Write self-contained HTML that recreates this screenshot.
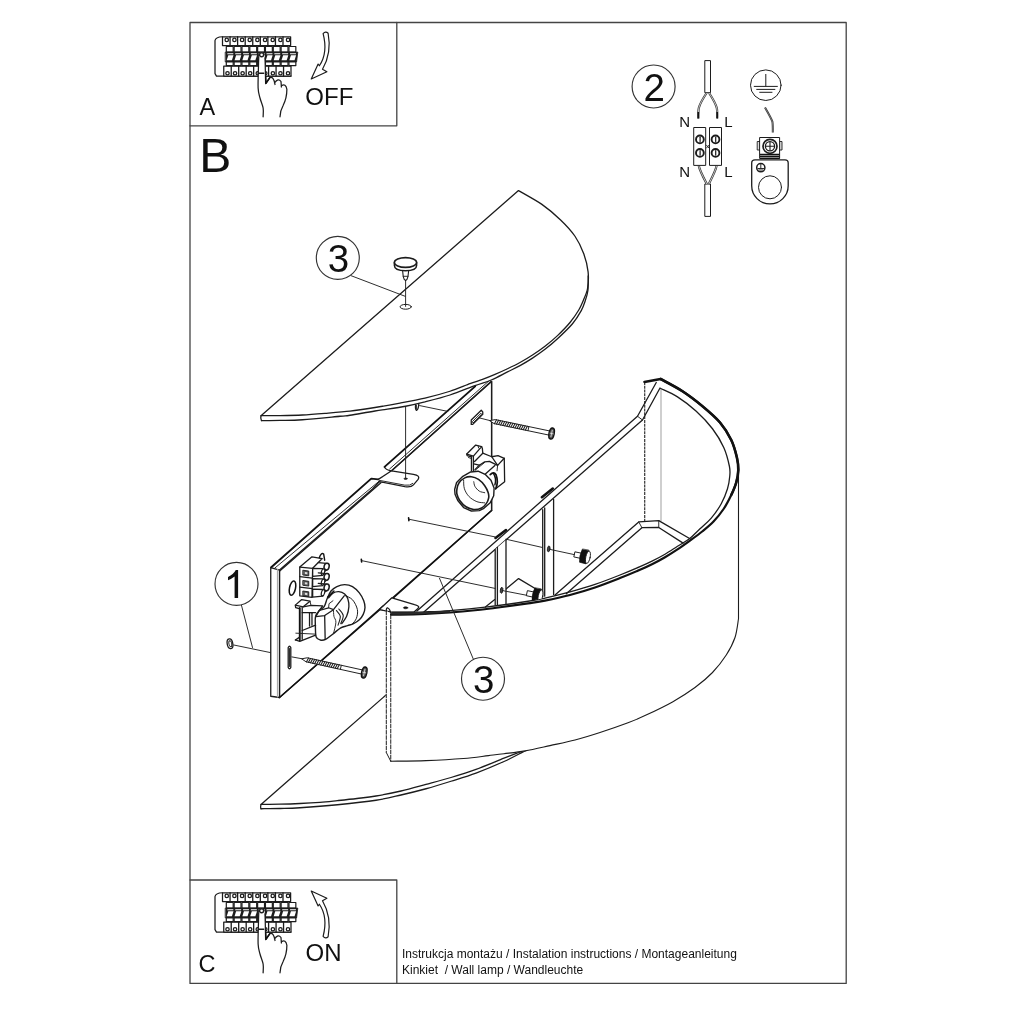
<!DOCTYPE html>
<html><head><meta charset="utf-8">
<style>
html,body{margin:0;padding:0;background:#fff;}
body{width:1024px;height:1024px;overflow:hidden;position:relative;font-family:"Liberation Sans",sans-serif;}
svg{position:absolute;left:0;top:0;will-change:transform;opacity:0.999;}
text{font-family:"Liberation Sans",sans-serif;fill:#111;}
path,ellipse,circle,rect,line{stroke-linecap:round;stroke-linejoin:round;}
.l{fill:none;stroke:#1c1c1c;stroke-width:1.3;}
.t{fill:none;stroke:#222;stroke-width:0.95;}
.g{fill:none;stroke:#777;stroke-width:0.7;}
.h{fill:none;stroke:#111;stroke-width:1.9;}
.w{fill:#fff;stroke:#1c1c1c;stroke-width:1.3;}
.wt{fill:#fff;stroke:#222;stroke-width:0.95;}
.k{fill:#111;stroke:#111;stroke-width:0.6;}
.fr{fill:none;stroke:#444;stroke-width:1.3;}
</style></head><body>
<svg width="1024" height="1024" viewBox="0 0 1024 1024">
<g id="frame">
<rect class="fr" x="190" y="22.5" width="656.2" height="960.9"/>
<path class="fr" d="M190 125.8H396.8V22.5"/>
<path class="fr" d="M190 880H396.8V983.4"/>
</g><!--e-->
<g id="labels">
<text x="199.6" y="114.6" font-size="23.5">A</text>
<text x="305.3" y="104.6" font-size="24">OFF</text>
<text x="199.2" y="172.4" font-size="48">B</text>
<text x="198.6" y="972.4" font-size="23.5">C</text>
<text x="305.6" y="961" font-size="24">ON</text>
<text x="402" y="958.3" font-size="12" xml:space="preserve">Instrukcja montażu / Instalation instructions / Montageanleitung</text>
<text x="402" y="974.3" font-size="12" xml:space="preserve">Kinkiet  / Wall lamp / Wandleuchte</text>
</g><!--e-->
<g id="bottomplate">
<path class="w" d="M386 695L261 804.4L261 808.75L261 808.75L280 808.5L300 807.75L337.5 804.75L376 800.25L401 795L426 788.75L451 781.25L476 773.1L504 761.5L525.6 750.6L532 748L530 700Z" style="stroke:none"/>
<path class="l" d="M386 695L261 804.4C264.17 804.37 273.5 804.35 280 804.2C286.5 804.05 293.33 803.82 300 803.5C306.67 803.18 313.75 802.78 320 802.3C326.25 801.82 331.33 801.23 337.5 800.6C343.67 799.97 350.58 799.27 357 798.5C363.42 797.73 368.67 797.25 376 796C383.33 794.75 392.67 792.93 401 791C409.33 789.07 417.67 786.65 426 784.4C434.33 782.15 442.67 780 451 777.5C459.33 775 467.17 772.63 476 769.4C484.83 766.17 496.67 761.02 504 758.1C511.33 755.18 515.67 753.58 520 751.9C524.33 750.22 528.33 748.65 530 748"/>
<path class="l" d="M261 808.75C264.17 808.71 273.5 808.67 280 808.5C286.5 808.33 290.42 808.38 300 807.75C309.58 807.12 324.83 806 337.5 804.75C350.17 803.5 365.42 801.88 376 800.25C386.58 798.62 392.67 796.92 401 795C409.33 793.08 417.67 791.04 426 788.75C434.33 786.46 442.67 783.86 451 781.25C459.33 778.64 467.17 776.39 476 773.1C484.83 769.81 495.73 765.25 504 761.5C512.27 757.75 520.93 752.85 525.6 750.6C530.27 748.35 530.93 748.43 532 748"/>
<path class="l" d="M261 804.4Q260.2 807 261 808.75"/>
</g><!--e-->
<g id="backplate">
<path class="w" d="M279.5 570L372.5 489L378.5 482.5L391.6 470.8L491.6 381.4L491.6 510.5L392.5 598.75L279.5 697.5Z"/>
<path class="w" d="M279.5 570L270.75 567.5L270.75 696.25L279.5 697.5Z"/>
<path class="g" d="M277.5 569.6V697" style="stroke:#aaa;stroke-width:1.2"/>
</g><!--e-->
<g id="bpdetail">
<path class="h" d="M279.5 697.5L491.6 510.5" style="stroke-width:1.5"/>
<path class="l" d="M491.6 381.4V510.5"/>
<path class="h" d="M384.53 466.88L475.16 386.41"/>
<path class="l" d="M391.56 470.78L490.78 381.72"/>
<path class="t" d="M389.69 468.91L489.22 380.62"/>
<path class="l" d="M384.53 466.88Q385.31 470 391.56 470.78"/>
<path class="h" d="M271.25 567.19L371.25 478.59L378.28 479.38"/>
<path class="t" d="M274.38 568.44L379.06 481.25"/>
<path class="l" d="M280 570.78L380.94 482.81"/>
<path class="w" d="M378.28 479.38L391.56 470.78L413.44 474.38Q420.47 475.47 418.12 479.38L413.44 484.84Q411.09 487.5 404.84 486.56L379.06 481.56"/>
<path class="t" d="M379.06 480.31L404.84 485.16Q410.31 485.94 412.81 483.44"/>
<ellipse class="k" cx="405.6" cy="478.7" rx="1.6" ry="0.8"/>
<path class="t" d="M405.6 406.5V478.5"/>
<path class="l" d="M415.6 404.6Q415 409.5 416.6 410.4Q418.4 409.5 418.8 404"/>
<path class="t" d="M416.4 405.2V408.8"/>
<path class="t" d="M419.7 405.6L447.8 411.4"/>
<path class="l" d="M471.25 420L481.25 410.25L482.75 411.88L482.75 414.38L472.75 424.38L471.25 424.38Z"/>
<path class="t" d="M472.75 421.25L481 413.25L481.62 414.5L473.25 422.75Z"/>
<path class="l" d="M288.2 647.5Q289.5 645 290.8 647.5V667.5Q289.5 670 288.2 667.5Z"/>
<path class="t" d="M289.5 648.5V666.5"/>
<ellipse class="h" cx="292.5" cy="588.1" rx="3" ry="7.3" transform="rotate(12 292.5 588.1)" style="stroke-width:1.5"/>
<path class="w" d="M391.88 597.81L414.53 604.53Q420.78 605.94 417.66 608.75L413.75 612.19L390.31 611.88L379.38 609.53Z"/>
<ellipse class="k" cx="405.6" cy="607.8" rx="2.2" ry="1"/>
</g><!--e-->
<g id="terminal">
<path class="w" d="M327.11 598.78C328.25 596.18 329.39 593 331.02 590.97C332.64 588.93 334.6 587.63 336.88 586.57C339.15 585.52 342.08 584.62 344.69 584.62C347.29 584.62 350.06 585.19 352.5 586.57C354.94 587.96 357.46 590.56 359.34 592.92C361.21 595.28 362.79 598.29 363.73 600.73C364.67 603.18 365.08 605.29 365 607.57C364.92 609.85 364.19 612.37 363.24 614.41C362.3 616.44 360.96 618.23 359.34 619.78C357.71 621.32 355.43 622.71 353.48 623.68C351.52 624.66 349.73 624.94 347.62 625.64C345.5 626.34 343.22 626.5 340.78 627.88C338.34 629.27 335.49 632.03 332.97 633.94C330.45 635.84 327.76 638.3 325.64 639.31C323.53 640.32 321.85 640.37 320.27 639.99C318.69 639.62 316.99 639.37 316.17 637.06C315.36 634.75 315.49 629.58 315.39 626.12C315.29 622.67 314.93 618.96 315.59 616.36C316.24 613.76 317.86 612.13 319.3 610.5C320.73 608.87 322.88 608.55 324.18 606.59C325.48 604.64 325.97 601.39 327.11 598.78Z" style="stroke-width:1.4"/>
<path class="l" d="M328.57 597.8C329.31 597.02 331.26 594.14 332.97 593.12C334.68 592.09 336.88 591.52 338.83 591.65C340.78 591.78 343.19 592.71 344.69 593.9C346.18 595.09 347.11 596.67 347.81 598.78C348.51 600.9 349.08 603.66 348.89 606.59C348.69 609.52 347.83 613.51 346.64 616.36C345.45 619.21 342.57 622.46 341.76 623.68"/>
<path class="l" d="M344.69 595.36C345.99 596.1 350.38 597.4 352.5 599.76C354.62 602.12 356.73 606.43 357.38 609.52C358.03 612.62 357.22 615.95 356.41 618.31C355.59 620.67 353.15 622.79 352.5 623.68" style="stroke-width:1.0"/>
<path class="h" d="M327.6 597.32L333.95 590.97" style="stroke-width:1.5"/>
<path class="l" d="M319.3 610.5L328.57 607.77L333.46 609.72L324.67 615.58L315.88 616.55Z"/>
<path class="l" d="M324.67 615.58L325.16 639.02"/>
<path class="l" d="M333.46 609.72L344.2 595.85"/>
<path class="t" d="M328.57 607.77L329.06 603.66L332.97 600.73"/>
<path class="t" d="M333.46 609.72C333.54 610.83 333.54 614.28 333.95 616.36C334.35 618.44 335.98 619.32 335.9 622.22C335.82 625.12 333.86 631.82 333.46 633.74"/>
<path class="l" d="M336.39 610.5C337.04 611.48 340.02 613.92 340.29 616.36C340.57 618.8 338.42 623.68 338.05 625.15" style="stroke-width:1.1"/>
<path class="l" d="M338.83 609.04C339.56 610.09 342.9 612.94 343.22 615.38C343.55 617.82 341.19 622.3 340.78 623.68" style="stroke-width:1.1"/>
<path class="w" d="M295.37 605.13L301.72 599.56L310.02 601.22L303.18 606.79Z"/>
<path class="l" d="M295.37 605.13L295.66 607.57L299.28 608.74"/>
<path class="l" d="M303.18 606.79L311 605.42L322.71 605.81L319.3 610.5"/>
<path class="t" d="M310.02 601.22L311 605.42"/>
<path class="h" d="M299.77 608.06L299.77 640.29Z"/>
<path class="l" d="M302.21 607.57L302.21 639.31"/>
<path class="l" d="M302.21 612.65L315.59 612.65"/>
<path class="l" d="M309.53 613.23L309.53 626.12"/>
<path class="l" d="M311.97 613.23L311.97 625.15"/>
<path class="l" d="M302.21 630.52L315.59 625.15"/>
<path class="t" d="M295.86 633.16L315.59 634.13"/>
<path class="l" d="M295.37 639.99L299.77 641.36L315.59 635.21"/>
<path class="l" d="M295.37 639.99L299.28 637.36"/>
<path class="w" d="M299.77 567.04L311.97 556.79L322.23 558.55L328.57 562.65L329.06 590.97L322.71 596.83L311.97 597.32L299.77 595.85Z" style="stroke:none"/>
<path class="l" d="M299.77 567.04L311.97 556.79L322.23 558.55L312.66 568.31Z"/>
<path class="l" d="M299.77 567.04L299.77 595.85L311.97 597.32L312.66 568.31"/>
<path d="M303.18 570.27L308.75 571.05L308.75 575.83L303.18 575.05Z" fill="#555" stroke="#1c1c1c" stroke-width="0.9"/>
<path d="M304.84 571.93L307.38 572.32L307.38 574.37L304.84 573.98Z" fill="#ddd"/>
<path class="w" d="M312.66 568.31L322.71 568.7L322.71 575.34L312.66 576.32Z"/>
<path class="l" d="M318.32 562.65L326.33 563.43"/>
<path class="l" d="M322.71 572.41L327.11 569.68"/>
<ellipse class="w" cx="326.62" cy="566.55" rx="2.5" ry="3.4" transform="rotate(15 326.62 566.55)" style="stroke-width:1.5"/>
<ellipse class="w" cx="323.01" cy="571.93" rx="1.6" ry="3.2" transform="rotate(15 323.01 571.93)" style="stroke-width:1.2"/>
<path class="l" d="M299.77 576.52L312.27 578.08"/>
<path d="M303.18 580.52L308.75 581.3L308.75 586.09L303.18 585.3Z" fill="#555" stroke="#1c1c1c" stroke-width="0.9"/>
<path d="M304.84 582.18L307.38 582.57L307.38 584.62L304.84 584.23Z" fill="#ddd"/>
<path class="w" d="M312.66 578.57L322.71 578.96L322.71 585.6L312.66 586.57Z"/>
<path class="l" d="M318.32 572.9L326.33 573.68"/>
<path class="l" d="M322.71 582.67L327.11 579.93"/>
<ellipse class="w" cx="326.62" cy="576.81" rx="2.5" ry="3.4" transform="rotate(15 326.62 576.81)" style="stroke-width:1.5"/>
<ellipse class="w" cx="323.01" cy="582.18" rx="1.6" ry="3.2" transform="rotate(15 323.01 582.18)" style="stroke-width:1.2"/>
<path class="l" d="M299.77 587.06L312.27 588.62"/>
<path d="M303.18 591.07L308.75 591.85L308.75 596.63L303.18 595.85Z" fill="#555" stroke="#1c1c1c" stroke-width="0.9"/>
<path d="M304.84 592.73L307.38 593.12L307.38 595.17L304.84 594.78Z" fill="#ddd"/>
<path class="w" d="M312.66 589.11L322.71 589.5L322.71 596.14L312.66 597.12Z"/>
<path class="l" d="M318.32 583.45L326.33 584.23"/>
<path class="l" d="M322.71 593.21L327.11 590.48"/>
<ellipse class="w" cx="326.62" cy="587.36" rx="2.5" ry="3.4" transform="rotate(15 326.62 587.36)" style="stroke-width:1.5"/>
<ellipse class="w" cx="323.01" cy="592.73" rx="1.6" ry="3.2" transform="rotate(15 323.01 592.73)" style="stroke-width:1.2"/>
<path class="h" d="M319.3 557.77Q321.25 551.91 323.69 554.05L324.67 560.21" style="stroke-width:1.4"/>
</g><!--e-->
<g id="holder">
<path class="w" d="M466.75 454.02L475.73 445.03L481.59 446.59L482.38 448.55L482.77 453.23L491.75 456.75L498 455.58L504.25 458.31L504.64 481.75L495.66 488.78L494.09 488L493.7 495.81L490.19 502.84L483.94 508.31L479.25 510.66L471.44 511.05L463.62 507.53L457.77 500.5L455.03 494.25L454.64 489.56L456.59 482.53L462.84 476.28L470.66 471.98L471.44 470.81L471.44 456.75L467.14 455.58Z" style="stroke:none"/>
<path class="l" d="M466.75 454.02L475.73 445.03L481.59 446.59L473.39 456.12Z"/>
<path class="l" d="M466.75 454.02L467.14 455.58L471.44 456.91"/>
<path class="t" d="M468.47 457.53L471.28 458.47"/>
<path class="l" d="M471.44 456.75L471.44 470.97"/>
<path class="l" d="M473.39 456.44L473.39 470.42"/>
<path class="l" d="M481.59 446.59L482.38 448.55L482.77 453.23L474.56 461.44"/>
<path class="t" d="M478.08 445.81L478.62 448"/>
<path class="l" d="M473.78 463.78L479.25 465.19L474.95 469.64"/>
<path class="l" d="M482.77 453.23L491.75 456.75L498 455.58L504.25 458.31L504.64 481.75L495.66 488.78"/>
<path class="l" d="M491.75 456.75L497.61 465.34L504.25 458.31"/>
<path class="l" d="M479.25 465.19L484.72 461.83L489.41 461.44L497.61 465.34"/>
<path class="t" d="M474.95 470.42L484.72 462.38"/>
<path class="l" d="M485.11 474.33L494.88 465.5"/>
<path class="t" d="M497.61 465.34L497.06 470.81"/>
<path class="h" d="M490.19 474.72Q493.7 471.2 496.05 474.72Q498.78 481.75 495.66 488.78" style="stroke-width:1.7"/>
<path class="h" d="M493.31 473.16Q496.83 478.62 494.88 484.88" style="stroke-width:1.5"/>
<path class="w" d="M454.64 489.56L456.59 482.53L462.84 476.28L470.66 471.98L478.08 471.2L485.11 474.33L490.97 480.19L494.09 488L493.7 495.81L490.19 502.84L483.94 508.31L479.25 510.66L471.44 511.05L463.62 507.53L457.77 500.5L455.03 494.25Z" style="stroke-width:1.4"/>
<path class="l" d="M456.98 488.78C457.31 486.89 457.64 484.74 458.94 482.92C460.24 481.1 462.71 478.89 464.8 477.84C466.88 476.8 469.16 476.41 471.44 476.67C473.72 476.93 476.26 477.91 478.47 479.41C480.68 480.9 483.09 483.44 484.72 485.66C486.35 487.87 487.58 490.6 488.23 492.69C488.89 494.77 488.95 496.33 488.62 498.16C488.3 499.98 487.45 502 486.28 503.62C485.11 505.25 483.68 506.95 481.59 507.92C479.51 508.9 476.39 509.68 473.78 509.48C471.18 509.29 468.31 508.25 465.97 506.75C463.62 505.25 461.22 502.58 459.72 500.5C458.22 498.42 457.44 496.2 456.98 494.25C456.53 492.3 456.66 490.67 456.98 488.78Z" style="stroke-width:1.6"/>
<path class="t" d="M463.62 480.19C463.76 481.62 463.49 486.05 464.41 488.78C465.32 491.52 467.01 494.45 469.09 496.59C471.18 498.74 474.3 500.63 476.91 501.67C479.51 502.71 483.42 502.65 484.72 502.84"/>
<path class="t" d="M473.78 481.75C473.98 482.53 474.04 484.88 474.95 486.44C475.86 488 477.62 490.08 479.25 491.12C480.88 492.17 483.81 492.43 484.72 492.69"/>
</g><!--e-->
<g id="topplate">
<path class="w" d="M261.5 420.6L261 415.7L518.5 190.6L541.9 204.4L560.6 220L575 236.25L583.75 253.75L588.1 271.9L588.2 276L587.9 290.5L585 301.5L581.25 310.6L572.5 323.75L557.5 338.75L545 349.3L532.5 358.1L520 365.6L507.5 371.9L491.25 380L475 385.6L450 395L425 401.9L405.6 406.25L375 411L350 415.25L340 416.25L302.5 419.75L280 420.4L261.5 420.6Z" style="stroke:none"/>
<path class="l" d="M261 415.7L518.5 190.6C521.62 192.44 536.29 200.48 541.9 204.4C547.51 208.32 556.19 215.75 560.6 220C565.01 224.25 571.91 231.75 575 236.25C578.09 240.75 582 249 583.75 253.75C585.5 258.5 587.6 267.23 588.1 271.9C588.6 276.57 588.11 285 587.5 288.75C586.89 292.5 584.67 297.17 583.5 300C582.33 302.83 580.55 307 578.75 310C576.95 313 572.83 319.09 570 322.5C567.17 325.91 560.83 332.43 557.5 335.6C554.17 338.77 548.33 343.66 545 346.25C541.67 348.84 535.83 352.83 532.5 355C529.17 357.17 523.33 360.67 520 362.5C516.67 364.33 510.83 367.16 507.5 368.75C504.17 370.34 498.33 372.98 495 374.4C491.67 375.82 485.83 378.17 482.5 379.4C479.17 380.63 474.33 382.02 470 383.6C465.67 385.18 456 389.32 450 391.25C444 393.18 431.67 396.52 425 398.1C418.33 399.68 406.67 401.85 400 403.1C393.33 404.35 381.67 406.42 375 407.5C368.33 408.58 356.67 410.41 350 411.2C343.33 411.99 331.33 412.89 325 413.4C318.67 413.91 308.5 414.71 302.5 415C296.5 415.29 285.53 415.51 280 415.6C274.47 415.69 263.53 415.69 261 415.7"/>
<path class="l" d="M588.2 276C588.15 278.42 588.43 286.25 587.9 290.5C587.37 294.75 586.11 298.15 585 301.5C583.89 304.85 583.33 306.89 581.25 310.6C579.17 314.31 576.46 319.06 572.5 323.75C568.54 328.44 562.08 334.49 557.5 338.75C552.92 343.01 549.17 346.07 545 349.3C540.83 352.53 536.67 355.38 532.5 358.1C528.33 360.82 524.17 363.3 520 365.6C515.83 367.9 512.29 369.5 507.5 371.9C502.71 374.3 496.67 377.72 491.25 380C485.83 382.28 481.88 383.1 475 385.6C468.12 388.1 458.33 392.28 450 395C441.67 397.72 432.4 400.02 425 401.9C417.6 403.77 413.93 404.73 405.6 406.25C397.27 407.77 384.27 409.5 375 411C365.73 412.5 355.83 414.38 350 415.25C344.17 416.12 347.92 415.5 340 416.25C332.08 417 312.5 419.06 302.5 419.75C292.5 420.44 286.83 420.26 280 420.4C273.17 420.54 264.58 420.57 261.5 420.6"/>
<path class="l" d="M261 415.7Q260.2 418.5 261.5 420.6"/>
</g><!--e-->
<g id="shade">
<path class="w" d="M644.4 381.9L660.6 379C664.25 381.04 675.52 386.71 682.5 391.25C689.48 395.79 696.25 401.04 702.5 406.25C708.75 411.46 715.21 416.88 720 422.5C724.79 428.12 728.43 434.17 731.25 440C734.07 445.83 735.73 452.5 736.9 457.5C738.07 462.5 738.41 465.83 738.3 470C738.19 474.17 737.42 478.33 736.25 482.5C735.08 486.67 733.33 490.62 731.25 495C729.17 499.38 726.67 504.38 723.75 508.75C720.83 513.12 717.29 517.5 713.75 521.25C710.21 525 706.46 528.02 702.5 531.25C698.54 534.48 694.17 537.58 690 540.6C685.83 543.62 681.67 546.63 677.5 549.4C673.33 552.17 669.17 554.77 665 557.2C660.83 559.63 656.67 561.9 652.5 564C648.33 566.1 645.42 567.45 640 569.8C634.58 572.15 627.5 575.15 620 578.1C612.5 581.05 603.33 584.68 595 587.5C586.67 590.32 578.33 592.82 570 595C561.67 597.18 552 599.22 545 600.6C538 601.98 535.5 602.19 528 603.3C520.5 604.41 508.83 606.09 500 607.25C491.17 608.41 483.33 609.38 475 610.25C466.67 611.12 458.33 611.88 450 612.5C441.67 613.12 433.33 613.62 425 614C416.67 614.38 405.67 614.65 400 614.75C394.33 614.85 392.5 614.62 391 614.6L385.8 610V752.5L390.75 761.25C396.62 761.14 413.88 761.06 426 760.6C438.12 760.14 453.08 759.33 463.5 758.5C473.92 757.67 481.75 756.39 488.5 755.6C495.25 754.81 497.92 754.53 504 753.75C510.08 752.97 517.33 752.26 525 750.9C532.67 749.54 541.67 747.42 550 745.6C558.33 743.78 566.67 742.18 575 740C583.33 737.82 591.17 735.38 600 732.5C608.83 729.62 620.5 725.57 628 722.75C635.5 719.93 637.58 719.08 645 715.6C652.42 712.12 664.17 706.58 672.5 701.9C680.83 697.22 688.33 692.4 695 687.5C701.67 682.6 707.29 677.92 712.5 672.5C717.71 667.08 722.5 660.83 726.25 655C730 649.17 732.96 643.54 735 637.5C737.04 631.46 737.92 621.88 738.5 618.75L738.5 470" style="stroke:none"/>
<path class="l" d="M390.75 761.25C396.62 761.14 413.88 761.06 426 760.6C438.12 760.14 453.08 759.33 463.5 758.5C473.92 757.67 481.75 756.39 488.5 755.6C495.25 754.81 497.92 754.53 504 753.75C510.08 752.97 517.33 752.26 525 750.9C532.67 749.54 541.67 747.42 550 745.6C558.33 743.78 566.67 742.18 575 740C583.33 737.82 591.17 735.38 600 732.5C608.83 729.62 620.5 725.57 628 722.75C635.5 719.93 637.58 719.08 645 715.6C652.42 712.12 664.17 706.58 672.5 701.9C680.83 697.22 688.33 692.4 695 687.5C701.67 682.6 707.29 677.92 712.5 672.5C717.71 667.08 722.5 660.83 726.25 655C730 649.17 732.96 643.54 735 637.5C737.04 631.46 737.92 621.88 738.5 618.75L738.5 470" style="stroke-width:1.1"/>
<path class="h" d="M644.7 381.9V521" style="stroke-dasharray:3 0.8;stroke-linecap:butt;stroke-width:1.2;stroke:#333"/>
<path class="g" d="M661 388.5V520.6"/>
<path class="l" d="M416.9 611.1L637.5 416.25L656.25 382.5"/>
<path class="l" d="M423.9 611.9L642.5 420L660 388"/>
<path class="t" d="M637.5 416.25L642.5 420"/>
<path class="l" d="M555 595L638.75 521.9L658.75 520.6L690 538.75"/>
<path class="l" d="M566.25 593.75L641.9 527.7L658.75 527.5L683.1 543.1"/>
<path class="t" d="M638.75 521.9L641.9 527.7M658.75 520.6V527.5"/>
<path class="l" d="M485.4 607L494.75 599.6"/>
<path class="l" d="M500 594L518.6 578.6L541 592"/>
<path class="w" d="M495 549.4L505.9 540L505.9 604.3L495 605.3Z" style="stroke:none"/>
<path class="w" d="M542.7 509.7L553.6 499.5L553.6 594.8L542.7 596.8Z" style="stroke:none"/>
<path class="l" d="M542.7 509.7V596.5M544.7 508V596.2M553.6 499.5V594.6"/>
<path class="l" d="M495.2 549.4V605M497.4 547.3V604.8M506 540V604"/>
<path class="h" d="M541.9 497.2L552.8 488.6" style="stroke-width:2.6"/>
<path class="h" d="M495.5 538L506 530" style="stroke-width:2.6"/>
<path class="l" d="M660.6 388.5C663.42 389.9 671.56 393.11 677.5 396.9C683.44 400.69 690.42 405.94 696.25 411.25C702.08 416.56 707.92 422.71 712.5 428.75C717.08 434.79 720.93 441.25 723.75 447.5C726.57 453.75 728.4 461.46 729.4 466.25C730.4 471.04 730.07 472.5 729.75 476.25C729.43 480 728.92 484.17 727.5 488.75C726.08 493.33 723.96 498.86 721.25 503.75C718.54 508.64 714.79 513.93 711.25 518.1C707.71 522.27 703.64 525.31 700 528.75C696.36 532.19 693.15 535.83 689.4 538.75C685.65 541.67 681.57 543.67 677.5 546.25C673.43 548.83 669.17 551.78 665 554.2C660.83 556.62 656.67 558.73 652.5 560.8C648.33 562.87 645.42 564.23 640 566.6C634.58 568.97 627.5 572.03 620 575C612.5 577.97 603.33 581.58 595 584.4C586.67 587.22 578.33 589.62 570 591.9C561.67 594.18 552 596.54 545 598.1C538 599.66 537.58 599.78 528 601.25C518.42 602.72 500.5 605.34 487.5 606.9C474.5 608.46 460.42 609.77 450 610.6C439.58 611.43 433.33 611.58 425 611.9C416.67 612.22 405.5 612.42 400 612.5C394.5 612.58 393.33 612.42 392 612.4"/>
<path class="h" d="M660.6 379C664.25 381.04 675.52 386.71 682.5 391.25C689.48 395.79 696.25 401.04 702.5 406.25C708.75 411.46 715.21 416.88 720 422.5C724.79 428.12 728.43 434.17 731.25 440C734.07 445.83 735.73 452.5 736.9 457.5C738.07 462.5 738.41 465.83 738.3 470C738.19 474.17 737.42 478.33 736.25 482.5C735.08 486.67 733.33 490.62 731.25 495C729.17 499.38 726.67 504.38 723.75 508.75C720.83 513.12 717.29 517.5 713.75 521.25C710.21 525 706.46 528.02 702.5 531.25C698.54 534.48 694.17 537.58 690 540.6C685.83 543.62 681.67 546.63 677.5 549.4C673.33 552.17 669.17 554.77 665 557.2C660.83 559.63 656.67 561.9 652.5 564C648.33 566.1 645.42 567.45 640 569.8C634.58 572.15 627.5 575.15 620 578.1C612.5 581.05 603.33 584.68 595 587.5C586.67 590.32 578.33 592.82 570 595C561.67 597.18 552 599.22 545 600.6C538 601.98 535.5 602.19 528 603.3C520.5 604.41 508.83 606.09 500 607.25C491.17 608.41 483.33 609.38 475 610.25C466.67 611.12 458.33 611.88 450 612.5C441.67 613.12 433.33 613.62 425 614C416.67 614.38 405.67 614.65 400 614.75C394.33 614.85 392.5 614.62 391 614.6" style="stroke-width:2.2"/>
<path class="h" d="M660.6 379C664.25 381.04 675.52 386.71 682.5 391.25C689.48 395.79 696.25 401.04 702.5 406.25C708.75 411.46 715.21 416.88 720 422.5C724.79 428.12 728.43 434.17 731.25 440C734.07 445.83 735.73 452.5 736.9 457.5C738.07 462.5 738.41 465.83 738.3 470C738.19 474.17 737.42 478.33 736.25 482.5C735.08 486.67 733.33 490.62 731.25 495" style="stroke-width:2.6"/>
<path class="h" d="M644.4 381.9L660.6 379" style="stroke-width:2.5"/>
<path class="k" d="M450 610.6L425 611.9L400 612.5L392 612.4L391 614.6L400 614.75L425 614L450 612.5Z" style="fill:#2a2a2a;stroke:none"/>
<path class="l" d="M386.3 610.5V752.5M390.75 614.5V761.25" style="stroke-width:1.0;stroke-dasharray:4.5 0.7;stroke-linecap:butt"/>
<path class="l" d="M386.3 752.5L390.75 761.25" style="stroke-width:1.0"/>
<path class="l" d="M386.3 611Q386.2 607.6 387.8 608Q389.8 608.8 391.2 614"/>
</g><!--e-->
<g id="knobs">
<ellipse class="k" cx="548.7" cy="548.9" rx="1.3" ry="3" transform="rotate(8 548.7 548.9)" style="fill:#444;stroke-width:0.8"/>
<ellipse class="k" cx="501.6" cy="590.3" rx="1.3" ry="3" transform="rotate(8 501.6 590.3)" style="fill:#444;stroke-width:0.8"/>
<path class="t" d="M550.5 549.5L574.7 554.7"/>
<path class="t" d="M503.6 590.8L527.8 595.5"/>
<g transform="translate(585.8 556.8) rotate(12)"><rect class="w" x="-11.3" y="-2.6" width="6.5" height="5.2" style="stroke-width:0.9"/><path class="k" d="M-5 -6.6Q-6.8 0 -5 6.6L1.6 6.9Q4.6 0 1.6 -6.9Z"/><ellipse class="w" cx="2.2" cy="0" rx="2.2" ry="6.3" style="stroke-width:0.9"/></g>
<clipPath id="cpk"><path d="M500 500L652.5 560.8 640 566.6 620 575 595 584.4 570 591.9 545 598.1 528 601.25 487.5 606.9 450 610.6 425 611.9L480 608Z"/></clipPath>
<g clip-path="url(#cpk)">
<g transform="translate(538.3 595.6) rotate(12)"><rect class="w" x="-11.3" y="-2.6" width="6.5" height="5.2" style="stroke-width:0.9"/><path class="k" d="M-5 -6.6Q-6.8 0 -5 6.6L1.6 6.9Q4.6 0 1.6 -6.9Z"/><ellipse class="w" cx="2.2" cy="0" rx="2.2" ry="6.3" style="stroke-width:0.9"/></g>
</g>
</g><!--e-->
<g id="screws">
<path class="t" d="M479.4 417.9L490 420.6"/>
<g transform="translate(490 420.6) rotate(11.83)"><path class="w" d="M0 0L5 -2.1L60.94 -2.1L60.94 2.1L5 2.1Z" style="stroke-width:0.9"/><path class="l" d="M5 2.1L6.2 -2.1M7.1 2.1L8.3 -2.1M9.2 2.1L10.4 -2.1M11.3 2.1L12.5 -2.1M13.4 2.1L14.6 -2.1M15.5 2.1L16.7 -2.1M17.6 2.1L18.8 -2.1M19.7 2.1L20.9 -2.1M21.8 2.1L23 -2.1M23.9 2.1L25.1 -2.1M26 2.1L27.2 -2.1M28.1 2.1L29.3 -2.1M30.2 2.1L31.4 -2.1M32.3 2.1L33.5 -2.1M34.4 2.1L35.6 -2.1M36.5 2.1L37.7 -2.1" style="stroke-width:1.05"/><path class="t" d="M39.26 -2.1V2.1"/><ellipse class="w" cx="62.94" cy="0" rx="2.6" ry="5.6" style="fill:#555;stroke:#111;stroke-width:1.4"/><path d="M62.94 -3.2V3.2M61.34 0H64.54" stroke="#eee" stroke-width="0.7" fill="none"/></g>
<path class="t" d="M291.9 656.9L302 658.75"/>
<g transform="translate(302 658.75) rotate(12.46)"><path class="w" d="M0 0L5 -2.1L61.75 -2.1L61.75 2.1L5 2.1Z" style="stroke-width:0.9"/><path class="l" d="M5 2.1L6.2 -2.1M7.1 2.1L8.3 -2.1M9.2 2.1L10.4 -2.1M11.3 2.1L12.5 -2.1M13.4 2.1L14.6 -2.1M15.5 2.1L16.7 -2.1M17.6 2.1L18.8 -2.1M19.7 2.1L20.9 -2.1M21.8 2.1L23 -2.1M23.9 2.1L25.1 -2.1M26 2.1L27.2 -2.1M28.1 2.1L29.3 -2.1M30.2 2.1L31.4 -2.1M32.3 2.1L33.5 -2.1M34.4 2.1L35.6 -2.1M36.5 2.1L37.7 -2.1" style="stroke-width:1.05"/><path class="t" d="M39.75 -2.1V2.1"/><ellipse class="w" cx="63.75" cy="0" rx="2.6" ry="5.6" style="fill:#555;stroke:#111;stroke-width:1.4"/><path d="M63.75 -3.2V3.2M62.15 0H65.35" stroke="#eee" stroke-width="0.7" fill="none"/></g>
</g><!--e-->
<g id="leaders">
<path class="t" d="M408.75 519.2L495 536.9M506 539.2L542.5 547.5"/>
<path class="h" d="M408.6 517.8L408.9 520.6" style="stroke-width:1.6"/>
<path class="t" d="M361.5 560.6L495 588.4"/>
<path class="h" d="M361.3 559.2L361.6 562" style="stroke-width:1.6"/>
<path class="t" d="M439.5 578.3L473.5 659.5"/>
<path class="t" d="M351.25 275.75L405 296.25"/>
<path class="t" d="M241.25 604.5L252.5 647.5"/>
<path class="t" d="M233.75 645L270.5 652.6"/>
</g><!--e-->
<g id="callouts">
<circle class="w" cx="337.8" cy="257.9" r="21.5" style="stroke-width:1.15;stroke:#333"/>
<text x="338.5" y="272.2" font-size="38.5" text-anchor="middle">3</text>
<circle class="w" cx="236.5" cy="583.9" r="21.5" style="stroke-width:1.15;stroke:#333"/>
<path transform="translate(0 0)" d="M238.1 570.1V597.9H234.6V576.6Q231.5 579 228 580.3V577Q233.4 574.6 235.8 570.1Z" fill="#111"/>
<circle class="w" cx="483" cy="678.75" r="21.5" style="stroke-width:1.15;stroke:#333"/>
<text x="483.7" y="693.05" font-size="38.5" text-anchor="middle">3</text>
<circle class="w" cx="653.6" cy="86.5" r="21.5" style="stroke-width:1.15;stroke:#333"/>
<text x="654.3" y="100.8" font-size="38.5" text-anchor="middle">2</text>
<ellipse class="l" cx="230" cy="643.75" rx="2.8" ry="4.9" transform="rotate(-10 230 643.75)"/>
<ellipse class="t" cx="230.3" cy="643.75" rx="1.4" ry="3" transform="rotate(-10 230.3 643.75)"/>
<path class="t" d="M405.6 280V306.4"/>
<ellipse class="l" cx="405.7" cy="306.8" rx="5.6" ry="2.4" style="stroke-width:1.0"/>
<path class="w" d="M402.5 269.5L403.2 276.3L404.2 279.3L405.6 280.5L407 279.3L408 276.3L408.8 269.5" style="stroke-width:1.1"/>
<path class="t" d="M403.2 276.3H408"/>
<path class="w" d="M394.4 262.5V265.6Q394.4 270.8 405.5 270.8Q416.6 270.8 416.6 265.6V262.5" style="stroke-width:1.5"/>
<ellipse class="w" cx="405.5" cy="262.5" rx="11.1" ry="4.9" style="stroke-width:1.6"/>
</g><!--e-->
<g id="boxA">
<path class="w" d="M222.5 36.75 Q215.62 37 215 40.5 L215 73.62 L216.5 76.12 L291 76.12" style="stroke-width:1.25"/><path class="w" d="M222.5 36.75L290.62 36.75L290.62 45.5L222.5 45.5Z" style="stroke-width:1.25"/><path class="w" d="M223.75 66.12L291 66.12L291 76.12L223.75 76.12Z" style="stroke-width:1.25"/><path class="l" d="M230.06 36.75 V45.5M231.22 66.12 V76.12M237.62 36.75 V45.5M238.7 66.12 V76.12M245.19 36.75 V45.5M246.18 66.12 V76.12M252.75 36.75 V45.5M253.65 66.12 V76.12M260.31 36.75 V45.5M261.12 66.12 V76.12M267.88 36.75 V45.5M268.6 66.12 V76.12M275.44 36.75 V45.5M276.07 66.12 V76.12M283 36.75 V45.5M283.55 66.12 V76.12"/><circle class="l" cx="226.75" cy="39.88" r="1.7" style="stroke-width:1.3"/><circle class="l" cx="227.5" cy="73.25" r="1.7" style="stroke-width:1.3"/><circle class="l" cx="234.41" cy="39.88" r="1.7" style="stroke-width:1.3"/><circle class="l" cx="235.06" cy="73.25" r="1.7" style="stroke-width:1.3"/><circle class="l" cx="242.07" cy="39.88" r="1.7" style="stroke-width:1.3"/><circle class="l" cx="242.62" cy="73.25" r="1.7" style="stroke-width:1.3"/><circle class="l" cx="249.74" cy="39.88" r="1.7" style="stroke-width:1.3"/><circle class="l" cx="250.19" cy="73.25" r="1.7" style="stroke-width:1.3"/><circle class="l" cx="257.4" cy="39.88" r="1.7" style="stroke-width:1.3"/><circle class="l" cx="257.75" cy="73.25" r="1.7" style="stroke-width:1.3"/><circle class="l" cx="265.06" cy="39.88" r="1.7" style="stroke-width:1.3"/><circle class="l" cx="265.31" cy="73.25" r="1.7" style="stroke-width:1.3"/><circle class="l" cx="272.73" cy="39.88" r="1.7" style="stroke-width:1.3"/><circle class="l" cx="272.88" cy="73.25" r="1.7" style="stroke-width:1.3"/><circle class="l" cx="280.39" cy="39.88" r="1.7" style="stroke-width:1.3"/><circle class="l" cx="280.44" cy="73.25" r="1.7" style="stroke-width:1.3"/><circle class="l" cx="288.05" cy="39.88" r="1.7" style="stroke-width:1.3"/><circle class="l" cx="288" cy="73.25" r="1.7" style="stroke-width:1.3"/><rect class="w" x="226.3" y="46.5" width="6.9" height="5.6" style="stroke-width:1.2"/><rect class="w" x="226.3" y="61.6" width="6.9" height="4.0" style="stroke-width:1.2"/><rect class="w" x="234.13" y="46.5" width="6.9" height="5.6" style="stroke-width:1.2"/><rect class="w" x="234.13" y="61.6" width="6.9" height="4.0" style="stroke-width:1.2"/><rect class="w" x="241.96" y="46.5" width="6.9" height="5.6" style="stroke-width:1.2"/><rect class="w" x="241.96" y="61.6" width="6.9" height="4.0" style="stroke-width:1.2"/><rect class="w" x="249.79" y="46.5" width="6.9" height="5.6" style="stroke-width:1.2"/><rect class="w" x="249.79" y="61.6" width="6.9" height="4.0" style="stroke-width:1.2"/><rect class="w" x="257.62" y="46.5" width="6.9" height="5.6" style="stroke-width:1.2"/><rect class="w" x="257.62" y="61.6" width="6.9" height="4.0" style="stroke-width:1.2"/><rect class="w" x="265.45" y="46.5" width="6.9" height="5.6" style="stroke-width:1.2"/><rect class="w" x="265.45" y="61.6" width="6.9" height="4.0" style="stroke-width:1.2"/><rect class="w" x="273.28" y="46.5" width="6.9" height="5.6" style="stroke-width:1.2"/><rect class="w" x="273.28" y="61.6" width="6.9" height="4.0" style="stroke-width:1.2"/><rect class="w" x="281.11" y="46.5" width="6.9" height="5.6" style="stroke-width:1.2"/><rect class="w" x="281.11" y="61.6" width="6.9" height="4.0" style="stroke-width:1.2"/><rect class="w" x="288.94" y="46.5" width="6.9" height="5.6" style="stroke-width:1.2"/><rect class="w" x="288.94" y="61.6" width="6.9" height="4.0" style="stroke-width:1.2"/><path d="M225.6 52.1H297.8L296.6 61.9H225.6Z" fill="#1c1c1c" stroke="#1c1c1c" stroke-width="0.8"/><path d="M227.5 53.3H233.3V54.2H227.2Z" fill="#fff"/><path d="M228.3 55.3H233.5L231.9 60.2H226.7Z" fill="#fff"/><path d="M235.33 53.3H241.13V54.2H235.03Z" fill="#fff"/><path d="M236.13 55.3H241.33L239.73 60.2H234.53Z" fill="#fff"/><path d="M243.16 53.3H248.96V54.2H242.86Z" fill="#fff"/><path d="M243.96 55.3H249.16L247.56 60.2H242.36Z" fill="#fff"/><path d="M250.99 53.3H256.79V54.2H250.69Z" fill="#fff"/><path d="M251.79 55.3H256.99L255.39 60.2H250.19Z" fill="#fff"/><path d="M258.82 53.3H264.62V54.2H258.52Z" fill="#fff"/><path d="M259.62 55.3H264.82L263.22 60.2H258.02Z" fill="#fff"/><path d="M266.65 53.3H272.45V54.2H266.35Z" fill="#fff"/><path d="M267.45 55.3H272.65L271.05 60.2H265.85Z" fill="#fff"/><path d="M274.48 53.3H280.28V54.2H274.18Z" fill="#fff"/><path d="M275.28 55.3H280.48L278.88 60.2H273.68Z" fill="#fff"/><path d="M282.31 53.3H288.11V54.2H282.01Z" fill="#fff"/><path d="M283.11 55.3H288.31L286.71 60.2H281.51Z" fill="#fff"/><path d="M290.14 53.3H295.94V54.2H289.84Z" fill="#fff"/><path d="M290.94 55.3H296.14L294.54 60.2H289.34Z" fill="#fff"/><path d="M263.12 116.75C263.12 115.29 263.65 111.12 263.12 108C262.6 104.88 260.83 101.33 260 98C259.17 94.67 258.38 93.42 258.12 88C257.88 82.58 258.4 70.67 258.5 65.5C258.6 60.33 258.71 58.42 258.75 57Q259 52.75 261.62 52.62Q264.5 52.75 264.75 57L265.25 65.5 265.62 83L280 83 286.25 90.5 280 116.75Z" fill="#fff" stroke="none"/><path class="l" d="M263.12 116.75C263.12 115.29 263.65 111.12 263.12 108C262.6 104.88 260.83 101.33 260 98C259.17 94.67 258.38 93.42 258.12 88C257.88 82.58 258.4 70.67 258.5 65.5C258.6 60.33 258.71 58.42 258.75 57" style="stroke-width:1.25"/><path class="l" d="M265 57.75L265.25 65.5 265.62 83" style="stroke-width:1.25"/><circle class="w" cx="261.62" cy="54.75" r="2.0" style="stroke-width:1.4"/><path class="l" d="M265.62 83.62L269.75 77.75Q273.75 76.12 275 84.5M274.5 83Q278.12 77.38 281 81.5L281.38 87M281.5 85.75Q285.62 83 286.88 89.25Q286.88 98 283.12 105.5Q280 111.12 280 116.75" style="stroke-width:1.25"/><path class="h" d="M265.75 77L266 83.25L269.75 77.75" style="stroke-width:1.5"/><path class="l" d="M258.12 73.25H263.75"/>
<path class="w" d="M323.12 33.62Q325.62 30.75 328.12 33.25Q331.88 53 322.5 69.25L326.88 71.75 311.25 79 318.12 64 319.38 65.75Q328.12 53 323.12 33.62Z" style="stroke-width:1.2"/>
</g><!--e-->
<g id="boxC">
<g transform="translate(0 856)"><path class="w" d="M222.5 36.75 Q215.62 37 215 40.5 L215 73.62 L216.5 76.12 L291 76.12" style="stroke-width:1.25"/><path class="w" d="M222.5 36.75L290.62 36.75L290.62 45.5L222.5 45.5Z" style="stroke-width:1.25"/><path class="w" d="M223.75 66.12L291 66.12L291 76.12L223.75 76.12Z" style="stroke-width:1.25"/><path class="l" d="M230.06 36.75 V45.5M231.22 66.12 V76.12M237.62 36.75 V45.5M238.7 66.12 V76.12M245.19 36.75 V45.5M246.18 66.12 V76.12M252.75 36.75 V45.5M253.65 66.12 V76.12M260.31 36.75 V45.5M261.12 66.12 V76.12M267.88 36.75 V45.5M268.6 66.12 V76.12M275.44 36.75 V45.5M276.07 66.12 V76.12M283 36.75 V45.5M283.55 66.12 V76.12"/><circle class="l" cx="226.75" cy="39.88" r="1.7" style="stroke-width:1.3"/><circle class="l" cx="227.5" cy="73.25" r="1.7" style="stroke-width:1.3"/><circle class="l" cx="234.41" cy="39.88" r="1.7" style="stroke-width:1.3"/><circle class="l" cx="235.06" cy="73.25" r="1.7" style="stroke-width:1.3"/><circle class="l" cx="242.07" cy="39.88" r="1.7" style="stroke-width:1.3"/><circle class="l" cx="242.62" cy="73.25" r="1.7" style="stroke-width:1.3"/><circle class="l" cx="249.74" cy="39.88" r="1.7" style="stroke-width:1.3"/><circle class="l" cx="250.19" cy="73.25" r="1.7" style="stroke-width:1.3"/><circle class="l" cx="257.4" cy="39.88" r="1.7" style="stroke-width:1.3"/><circle class="l" cx="257.75" cy="73.25" r="1.7" style="stroke-width:1.3"/><circle class="l" cx="265.06" cy="39.88" r="1.7" style="stroke-width:1.3"/><circle class="l" cx="265.31" cy="73.25" r="1.7" style="stroke-width:1.3"/><circle class="l" cx="272.73" cy="39.88" r="1.7" style="stroke-width:1.3"/><circle class="l" cx="272.88" cy="73.25" r="1.7" style="stroke-width:1.3"/><circle class="l" cx="280.39" cy="39.88" r="1.7" style="stroke-width:1.3"/><circle class="l" cx="280.44" cy="73.25" r="1.7" style="stroke-width:1.3"/><circle class="l" cx="288.05" cy="39.88" r="1.7" style="stroke-width:1.3"/><circle class="l" cx="288" cy="73.25" r="1.7" style="stroke-width:1.3"/><rect class="w" x="226.3" y="46.5" width="6.9" height="5.6" style="stroke-width:1.2"/><rect class="w" x="226.3" y="61.6" width="6.9" height="4.0" style="stroke-width:1.2"/><rect class="w" x="234.13" y="46.5" width="6.9" height="5.6" style="stroke-width:1.2"/><rect class="w" x="234.13" y="61.6" width="6.9" height="4.0" style="stroke-width:1.2"/><rect class="w" x="241.96" y="46.5" width="6.9" height="5.6" style="stroke-width:1.2"/><rect class="w" x="241.96" y="61.6" width="6.9" height="4.0" style="stroke-width:1.2"/><rect class="w" x="249.79" y="46.5" width="6.9" height="5.6" style="stroke-width:1.2"/><rect class="w" x="249.79" y="61.6" width="6.9" height="4.0" style="stroke-width:1.2"/><rect class="w" x="257.62" y="46.5" width="6.9" height="5.6" style="stroke-width:1.2"/><rect class="w" x="257.62" y="61.6" width="6.9" height="4.0" style="stroke-width:1.2"/><rect class="w" x="265.45" y="46.5" width="6.9" height="5.6" style="stroke-width:1.2"/><rect class="w" x="265.45" y="61.6" width="6.9" height="4.0" style="stroke-width:1.2"/><rect class="w" x="273.28" y="46.5" width="6.9" height="5.6" style="stroke-width:1.2"/><rect class="w" x="273.28" y="61.6" width="6.9" height="4.0" style="stroke-width:1.2"/><rect class="w" x="281.11" y="46.5" width="6.9" height="5.6" style="stroke-width:1.2"/><rect class="w" x="281.11" y="61.6" width="6.9" height="4.0" style="stroke-width:1.2"/><rect class="w" x="288.94" y="46.5" width="6.9" height="5.6" style="stroke-width:1.2"/><rect class="w" x="288.94" y="61.6" width="6.9" height="4.0" style="stroke-width:1.2"/><path d="M225.6 52.1H297.8L296.6 61.9H225.6Z" fill="#1c1c1c" stroke="#1c1c1c" stroke-width="0.8"/><path d="M227.5 53.3H233.3V54.2H227.2Z" fill="#fff"/><path d="M228.3 55.3H233.5L231.9 60.2H226.7Z" fill="#fff"/><path d="M235.33 53.3H241.13V54.2H235.03Z" fill="#fff"/><path d="M236.13 55.3H241.33L239.73 60.2H234.53Z" fill="#fff"/><path d="M243.16 53.3H248.96V54.2H242.86Z" fill="#fff"/><path d="M243.96 55.3H249.16L247.56 60.2H242.36Z" fill="#fff"/><path d="M250.99 53.3H256.79V54.2H250.69Z" fill="#fff"/><path d="M251.79 55.3H256.99L255.39 60.2H250.19Z" fill="#fff"/><path d="M258.82 53.3H264.62V54.2H258.52Z" fill="#fff"/><path d="M259.62 55.3H264.82L263.22 60.2H258.02Z" fill="#fff"/><path d="M266.65 53.3H272.45V54.2H266.35Z" fill="#fff"/><path d="M267.45 55.3H272.65L271.05 60.2H265.85Z" fill="#fff"/><path d="M274.48 53.3H280.28V54.2H274.18Z" fill="#fff"/><path d="M275.28 55.3H280.48L278.88 60.2H273.68Z" fill="#fff"/><path d="M282.31 53.3H288.11V54.2H282.01Z" fill="#fff"/><path d="M283.11 55.3H288.31L286.71 60.2H281.51Z" fill="#fff"/><path d="M290.14 53.3H295.94V54.2H289.84Z" fill="#fff"/><path d="M290.94 55.3H296.14L294.54 60.2H289.34Z" fill="#fff"/><path d="M263.12 116.75C263.12 115.29 263.65 111.12 263.12 108C262.6 104.88 260.83 101.33 260 98C259.17 94.67 258.38 93.42 258.12 88C257.88 82.58 258.4 70.67 258.5 65.5C258.6 60.33 258.71 58.42 258.75 57Q259 52.75 261.62 52.62Q264.5 52.75 264.75 57L265.25 65.5 265.62 83L280 83 286.25 90.5 280 116.75Z" fill="#fff" stroke="none"/><path class="l" d="M263.12 116.75C263.12 115.29 263.65 111.12 263.12 108C262.6 104.88 260.83 101.33 260 98C259.17 94.67 258.38 93.42 258.12 88C257.88 82.58 258.4 70.67 258.5 65.5C258.6 60.33 258.71 58.42 258.75 57" style="stroke-width:1.25"/><path class="l" d="M265 57.75L265.25 65.5 265.62 83" style="stroke-width:1.25"/><circle class="w" cx="261.62" cy="54.75" r="2.0" style="stroke-width:1.4"/><path class="l" d="M265.62 83.62L269.75 77.75Q273.75 76.12 275 84.5M274.5 83Q278.12 77.38 281 81.5L281.38 87M281.5 85.75Q285.62 83 286.88 89.25Q286.88 98 283.12 105.5Q280 111.12 280 116.75" style="stroke-width:1.25"/><path class="h" d="M265.75 77L266 83.25L269.75 77.75" style="stroke-width:1.5"/><path class="l" d="M258.12 73.25H263.75"/></g>
<g transform="translate(0 970) scale(1 -1)"><path class="w" d="M323.12 33.62Q325.62 30.75 328.12 33.25Q331.88 53 322.5 69.25L326.88 71.75 311.25 79 318.12 64 319.38 65.75Q328.12 53 323.12 33.62Z" style="stroke-width:1.2"/></g>
</g><!--e-->
<g id="wiring">
<rect class="w" x="705.2" y="60.6" width="5.3" height="32.1" style="stroke-width:1.0"/>
<rect class="w" x="705.2" y="184" width="5.3" height="32.4" style="stroke-width:1.0"/>
<path class="h" d="M706.6 93Q700 103 698.8 108Q698.2 111 698.3 118.4" style="stroke:#333;stroke-width:2.2;stroke-linecap:butt"/>
<path class="h" d="M706.6 93Q700 103 698.8 108Q698.2 111 698.3 118.4" style="stroke:#fff;stroke-width:0.7;stroke-linecap:butt"/>
<path class="h" d="M709.1 93Q715.6 103 716.8 108Q717.4 111 717.2 118.4" style="stroke:#333;stroke-width:2.2;stroke-linecap:butt"/>
<path class="h" d="M709.1 93Q715.6 103 716.8 108Q717.4 111 717.2 118.4" style="stroke:#fff;stroke-width:0.7;stroke-linecap:butt"/>
<path class="h" d="M698.8 165.7Q699.5 170 706.8 184" style="stroke:#333;stroke-width:2.2;stroke-linecap:butt"/>
<path class="h" d="M698.8 165.7Q699.5 170 706.8 184" style="stroke:#fff;stroke-width:0.7;stroke-linecap:butt"/>
<path class="h" d="M716.6 165.7Q716 170 708.8 184" style="stroke:#333;stroke-width:2.2;stroke-linecap:butt"/>
<path class="h" d="M716.6 165.7Q716 170 708.8 184" style="stroke:#fff;stroke-width:0.7;stroke-linecap:butt"/>
<path class="h" d="M698.3 112V118.4M717.2 112V118.4" style="stroke-width:1.6;stroke-linecap:butt"/>
<rect class="w" x="694.1" y="127.5" width="11.6" height="37.9" style="stroke-width:1.0"/>
<rect class="w" x="709.9" y="127.5" width="11.6" height="37.9" style="stroke-width:1.0"/>
<circle class="w" cx="699.9" cy="139.4" r="3.9" style="stroke-width:1.9"/>
<path class="l" d="M700.1 137.2V141.6" style="stroke-width:1.2"/>
<circle class="w" cx="699.9" cy="152.9" r="3.9" style="stroke-width:1.9"/>
<path class="l" d="M700.1 150.7V155.1" style="stroke-width:1.2"/>
<circle class="w" cx="715.5" cy="139.4" r="3.9" style="stroke-width:1.9"/>
<path class="l" d="M715.7 137.2V141.6" style="stroke-width:1.2"/>
<circle class="w" cx="715.5" cy="152.9" r="3.9" style="stroke-width:1.9"/>
<path class="l" d="M715.7 150.7V155.1" style="stroke-width:1.2"/>
<path class="t" d="M706.5 145.2L709 148M709 145.2L706.5 148"/>
<text x="679.2" y="126.7" font-size="15">N</text>
<text x="724.3" y="126.7" font-size="15">L</text>
<text x="679.2" y="176.5" font-size="15">N</text>
<text x="724.3" y="176.5" font-size="15">L</text>
<circle class="w" cx="765.8" cy="85.2" r="15.3" style="stroke-width:1.0"/>
<path class="l" d="M765.8 74.4V86M754.2 86.4H777.4M756.7 89.4H774.9M759.7 92.3H772" style="stroke-width:1.0"/>
<path class="h" d="M765 107.6Q771 118 772.4 121.7Q772.9 125 772.8 132.5" style="stroke:#333;stroke-width:2.0;stroke-linecap:butt"/>
<path class="h" d="M765 107.6Q771 118 772.4 121.7Q772.9 125 772.8 132.5" style="stroke:#bbb;stroke-width:0.5;stroke-linecap:butt"/>
<rect class="w" x="757.6" y="141.5" width="24.4" height="8.5" style="fill:#ddd;stroke-width:0.9"/>
<rect class="w" x="760" y="137.5" width="19.6" height="21" style="stroke-width:1.0"/>
<path class="h" d="M760 154.4H779.6M760 156.3H779.6M760 158.2H779.6" style="stroke-width:1.4;stroke-linecap:butt"/>
<circle class="w" cx="770" cy="146.3" r="7" style="stroke-width:1.7"/>
<circle class="w" cx="770" cy="146.3" r="4.6" style="stroke-width:1.3"/>
<path class="l" d="M770 142.4V150.2M766.1 146.3H773.9" style="stroke-width:1.1"/>
<path class="w" d="M755 159.9H785Q788.2 159.9 788.2 163V185.7A18.25 18.25 0 0 1 751.7 185.7V163Q751.7 159.9 755 159.9Z" style="stroke-width:1.3"/>
<circle class="w" cx="770" cy="187.3" r="11.5" style="stroke-width:1.0"/>
<circle class="w" cx="760.8" cy="167.7" r="4.1" style="stroke-width:1.5"/>
<path class="t" d="M760.8 164.4V168.4M758 168.5H763.6M758.8 170H762.8"/>
</g><!--e-->
</svg>
</body></html>
